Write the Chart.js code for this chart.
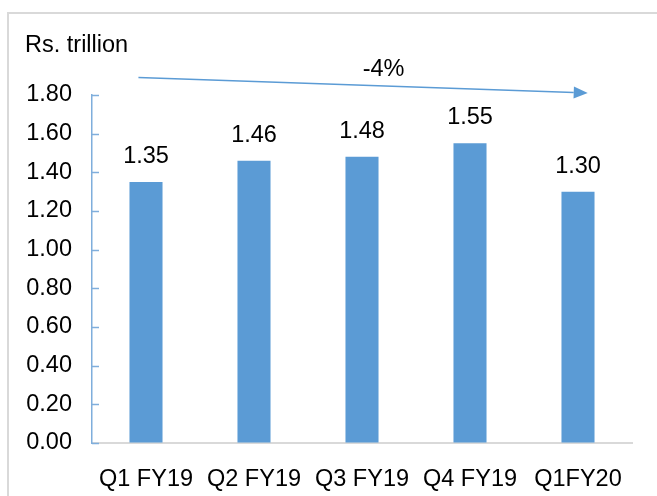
<!DOCTYPE html>
<html>
<head>
<meta charset="utf-8">
<script src="https://cdn.jsdelivr.net/npm/chart.js@4.4.1/dist/chart.umd.min.js"></script>
<style>
  html, body { margin: 0; padding: 0; background: #fff; }
  #wrap { width: 657px; height: 496px; }
</style>
</head>
<body>
<div id="wrap"><canvas id="barChart" width="657" height="496"></canvas></div>
<script>
"use strict";

// quarterly values, Rs. trillion
const quarters = ["Q1 FY19", "Q2 FY19", "Q3 FY19", "Q4 FY19", "Q1FY20"];
const amounts = [1.35, 1.46, 1.48, 1.55, 1.30];
const yTicks = [0, 0.2, 0.4, 0.6, 0.8, 1.0, 1.2, 1.4, 1.6, 1.8];

// trend arrow, in (category index, value) terms
const trendFrom = [-0.07, 1.89];
const trendTo = [4.09, 1.81];
const trendText = "-4%";
const trendTextAt = [2.2, 1.93];

const unitLabel = "Rs. trillion";
const fontFamily = "'Liberation Sans', Arial, sans-serif";
const barColor = "#5B9BD5";

const decorations = {
  id: "decorations",
  beforeDraw(chart) {
    const ctx = chart.ctx;
    ctx.save();
    ctx.fillStyle = "#fff";
    ctx.fillRect(0, 0, chart.width, chart.height);
    // frame round the figure
    ctx.strokeStyle = "#d9d9d9";
    ctx.lineWidth = 2;
    ctx.beginPath();
    ctx.moveTo(8, chart.height);
    ctx.lineTo(8, 13);
    ctx.lineTo(chart.width, 13);
    ctx.stroke();
    ctx.restore();
  },
  afterDraw(chart) {
    const ctx = chart.ctx;
    const x = chart.scales.x, y = chart.scales.y;
    ctx.save();

    // inward tick marks on the value axis
    ctx.strokeStyle = "#7FAEDC";
    ctx.lineWidth = 1.5;
    yTicks.forEach(t => {
      const py = Math.round(y.getPixelForValue(t)) + 0.5;
      ctx.beginPath();
      ctx.moveTo(x.left, py);
      ctx.lineTo(x.left + 7, py);
      ctx.stroke();
    });

    // unit label
    ctx.fillStyle = "#000";
    ctx.font = "23.5px " + fontFamily;
    ctx.textAlign = "left";
    ctx.textBaseline = "middle";
    ctx.fillText(unitLabel, 25, 46);

    // value labels on the bars
    ctx.textAlign = "center";
    ctx.textBaseline = "alphabetic";
    chart.getDatasetMeta(0).data.forEach((bar, i) => {
      ctx.fillText(amounts[i].toFixed(2), bar.x, bar.y - 19);
    });

    // trend arrow
    const x0 = x.getPixelForValue(trendFrom[0]), y0 = y.getPixelForValue(trendFrom[1]);
    const x1 = x.getPixelForValue(trendTo[0]), y1 = y.getPixelForValue(trendTo[1]);
    const ang = Math.atan2(y1 - y0, x1 - x0);
    const headLen = 14, headHalf = 6;
    const bx = x1 - headLen * Math.cos(ang), by = y1 - headLen * Math.sin(ang);
    ctx.strokeStyle = barColor;
    ctx.fillStyle = barColor;
    ctx.lineWidth = 1.5;
    ctx.beginPath();
    ctx.moveTo(x0, y0);
    ctx.lineTo(bx, by);
    ctx.stroke();
    ctx.beginPath();
    ctx.moveTo(x1, y1);
    ctx.lineTo(bx + headHalf * Math.sin(ang), by - headHalf * Math.cos(ang));
    ctx.lineTo(bx - headHalf * Math.sin(ang), by + headHalf * Math.cos(ang));
    ctx.closePath();
    ctx.fill();

    ctx.fillStyle = "#000";
    ctx.textBaseline = "middle";
    ctx.fillText(trendText, x.getPixelForValue(trendTextAt[0]), y.getPixelForValue(trendTextAt[1]));
    ctx.restore();
  }
};

let ctx_bar = document.getElementById("barChart").getContext("2d");

new Chart(ctx_bar, {
  type: "bar",
  data: {
    labels: quarters,
    datasets: [{
      data: amounts,
      backgroundColor: barColor,
      borderWidth: 0,
      categoryPercentage: 1,
      barPercentage: 0.306
    }]
  },
  options: {
    responsive: false,
    animation: false,
    devicePixelRatio: 1,
    layout: { padding: { left: 0, right: 25, top: 95, bottom: 0 } },
    plugins: {
      legend: { display: false },
      tooltip: { enabled: false }
    },
    scales: {
      x: {
        grid: { display: false },
        border: { display: true, color: "#d9d9d9", width: 2 },
        ticks: {
          color: "#000",
          font: { family: fontFamily, size: 23.5 },
          padding: 14,
          maxRotation: 0,
          autoSkip: false
        },
        afterFit(scale) { scale.height = 53; }
      },
      y: {
        min: 0,
        max: 1.8,
        grid: { display: true, drawOnChartArea: false, drawTicks: false },
        border: { display: true, color: "#7FAEDC", width: 1.5 },
        ticks: {
          stepSize: 0.2,
          color: "#000",
          padding: 20,
          font: { family: fontFamily, size: 23.5 },
          callback: v => Number(v).toFixed(2)
        },
        afterFit(scale) { scale.width = 92; }
      }
    }
  },
  plugins: [decorations]
});
</script>
</body>
</html>
